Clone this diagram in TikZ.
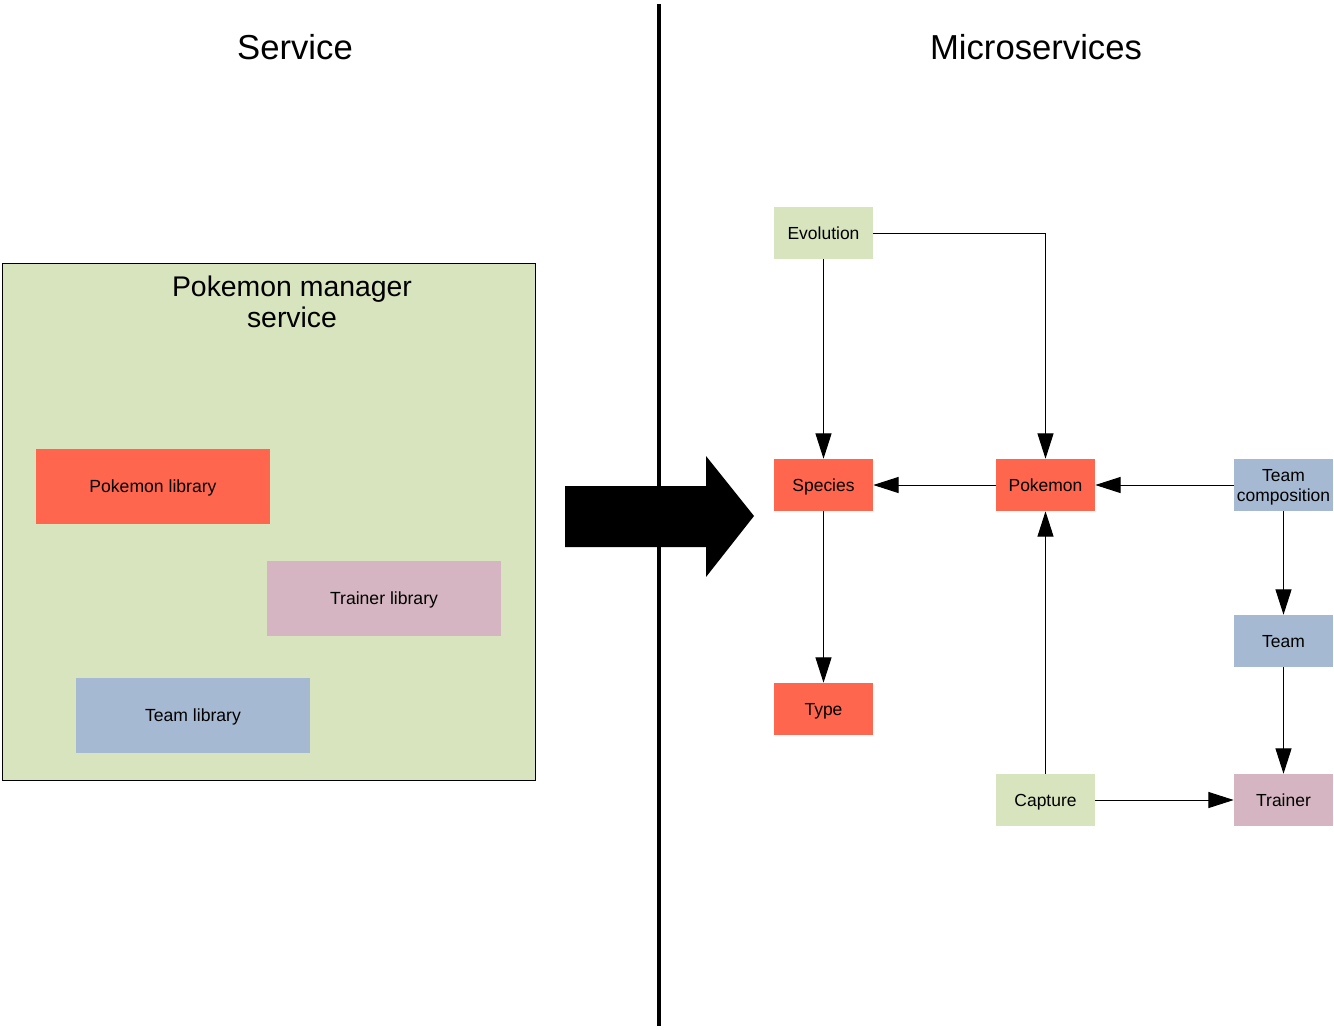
\documentclass[tikz,border=0pt]{standalone}
\usepackage{fontspec}
\setmainfont{Liberation Sans}
\usetikzlibrary{arrows.meta}
\definecolor{pkred}{RGB}{255,102,77}
\definecolor{pkgreen}{RGB}{215,228,189}
\definecolor{pkpink}{RGB}{213,181,193}
\definecolor{pkblue}{RGB}{166,185,211}
\tikzset{
  smallbox/.style={minimum width=74.25pt,minimum height=39pt,inner sep=0pt,align=center,font=\fontsize{13.1}{15}\selectfont},
  oneline/.style={text height=9.6pt,text depth=0pt},
  libbox/.style={minimum width=175.5pt,minimum height=56.25pt,inner sep=0pt,align=center,font=\fontsize{13.2}{15}\selectfont,text height=9.6pt,text depth=0pt},
  conn/.style={line width=0.75pt,-{Triangle[length=19pt,width=12pt]}},
  titletext/.style={font=\fontsize{26}{30}\selectfont}
}
\begin{document}
\begin{tikzpicture}[x=0.75pt,y=-0.75pt]
\useasboundingbox (0,0) rectangle (1334,1029);
% titles
\node[titletext] (tservice) at (295,47) {Service};
\node[titletext] (tmicro) at (1036,47) {Microservices};
% separator
\draw[line width=3pt] (659,4) -- (659,1026);
% left big box
\node[draw=black,line width=0.75pt,fill=pkgreen,minimum width=399.75pt,minimum height=387.75pt,inner sep=0pt] (main) at (268.5,521.5) {};
\node[align=center,font=\fontsize{21.3}{23.3}\selectfont] (maintitle) at (292,301.5) {Pokemon manager\\service};
\node[libbox,fill=pkred] (plib) at (153,486.5) {Pokemon library};
\node[libbox,fill=pkpink] (tlib) at (384,598.5) {Trainer library};
\node[libbox,fill=pkblue] (teamlib) at (193,715.5) {Team library};
% big arrow
\fill[black] (565,486) -- (706,486) -- (706,456) -- (754,516) -- (706,577) -- (706,547) -- (565,547) -- cycle;
% microservices
\node[smallbox,oneline,fill=pkgreen] (evo) at (823.5,233) {Evolution};
\node[smallbox,oneline,fill=pkred] (species) at (823.5,485) {Species};
\node[smallbox,oneline,fill=pkred] (pokemon) at (1045.5,485) {Pokemon};
\node[smallbox,fill=pkblue] (teamcomp) at (1283.5,485) {\raisebox{-1.5pt}[\height][\depth]{\begin{tabular}{@{}c@{}}Team\\composition\end{tabular}}};
\node[smallbox,oneline,fill=pkblue] (team) at (1283.5,641) {Team};
\node[smallbox,oneline,fill=pkred] (type) at (823.5,709) {Type};
\node[smallbox,oneline,fill=pkgreen] (capture) at (1045.5,800) {Capture};
\node[smallbox,oneline,fill=pkpink] (trainer) at (1283.5,800) {Trainer};
% connectors
\draw[conn] (evo.south) -- (species.north);
\draw[conn] (evo.east) -| (pokemon.north);
\draw[conn] (pokemon.west) -- (species.east);
\draw[conn] (teamcomp.west) -- (pokemon.east);
\draw[conn] (species.south) -- (type.north);
\draw[conn] (capture.north) -- (pokemon.south);
\draw[conn] (capture.east) -- (trainer.west);
\draw[conn] (teamcomp.south) -- (team.north);
\draw[conn] (team.south) -- (trainer.north);
\end{tikzpicture}
\end{document}
